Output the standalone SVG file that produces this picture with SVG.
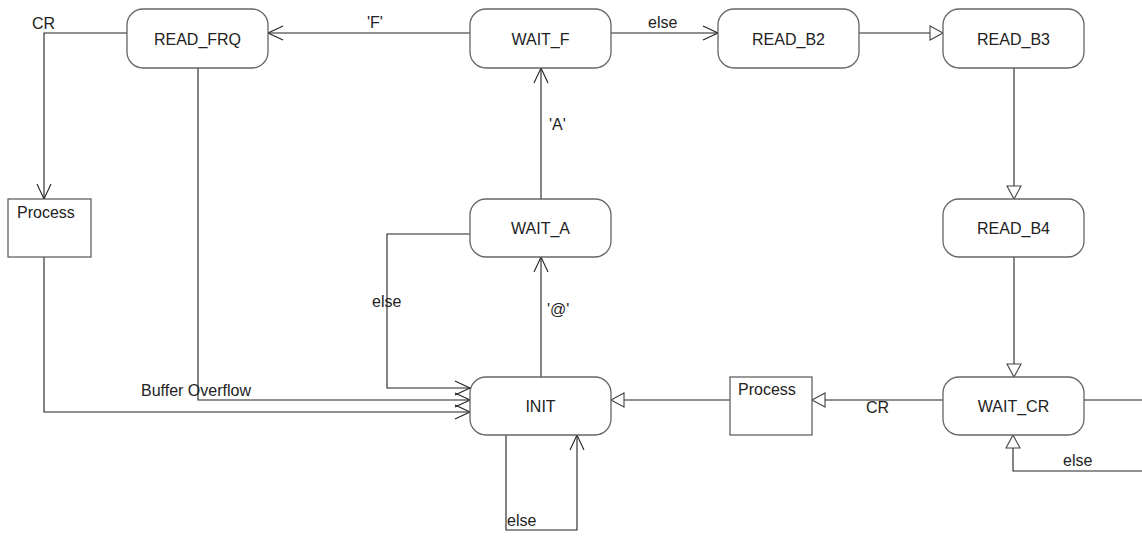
<svg xmlns="http://www.w3.org/2000/svg" width="1142" height="536" viewBox="0 0 1142 536">
<style>
.state{fill:#fff;stroke:#666;stroke-width:1.3}
.proc{fill:#fff;stroke:#555;stroke-width:1.2}
.name{font-family:"Liberation Sans",Arial,sans-serif;font-size:16px;fill:#222;text-anchor:middle}
.lbl{font-family:"Liberation Sans",Arial,sans-serif;font-size:16px;fill:#222}
.edge{fill:none;stroke:#222;stroke-width:1.1}
.open{marker-end:url(#openArrow)}
.tri{marker-end:url(#triArrow)}
</style>
<defs>
<marker id="openArrow" markerUnits="userSpaceOnUse" markerWidth="17" markerHeight="16" viewBox="-1 -1 17 16" refX="15" refY="7" orient="auto" overflow="visible">
<path d="M0,0 L15,7 L0,14" fill="none" stroke="#222" stroke-width="1.1"/>
</marker>
<marker id="triArrow" markerUnits="userSpaceOnUse" markerWidth="15" markerHeight="16" viewBox="-1 -1 15 16" refX="13" refY="7" orient="auto" overflow="visible">
<path d="M0,0 L13,7 L0,14 Z" fill="#fff" stroke="#444" stroke-width="1.1"/>
</marker>
</defs>
<rect width="1142" height="536" fill="#fff"/>
<g id="connectors">
<path class="edge open" d="M470,33 H268"/>
<path class="edge open" d="M611,33 H718"/>
<path class="edge tri" d="M859,33 H943"/>
<path class="edge tri" d="M1014,68 V199"/>
<path class="edge tri" d="M1014,257 V377"/>
<path class="edge tri" d="M943,400 H812"/>
<path class="edge tri" d="M730,400 H611"/>
<path class="edge tri" d="M1084,400 H1160 V471 H1013 V435"/>
<path class="edge open" d="M541,377 V257"/>
<path class="edge open" d="M541,199 V68"/>
<path class="edge open" d="M470,234 H387 V388 H470"/>
<path class="edge open" d="M198,68 V400 H470"/>
<path class="edge open" d="M127,33 H44 V199"/>
<path class="edge open" d="M44,257 V412 H470"/>
<path class="edge open" d="M506,435 V530 H577 V435"/>
<text class="lbl" x="367" y="28">'F'</text>
<text class="lbl" x="648" y="28">else</text>
<text class="lbl" x="32" y="29">CR</text>
<text class="lbl" x="549" y="130">'A'</text>
<text class="lbl" x="547" y="315">'@'</text>
<text class="lbl" x="372" y="307">else</text>
<text class="lbl" x="141" y="396">Buffer Overflow</text>
<text class="lbl" x="507" y="526">else</text>
<text class="lbl" x="866" y="413">CR</text>
<text class="lbl" x="1063" y="466">else</text>
</g>
<g id="READ_FRQ"><rect class="state" x="127" y="9" width="141" height="59" rx="16"/><text class="name" x="197.5" y="45">READ_FRQ</text></g>
<g id="WAIT_F"><rect class="state" x="470" y="9" width="141" height="59" rx="16"/><text class="name" x="540.5" y="45">WAIT_F</text></g>
<g id="READ_B2"><rect class="state" x="718" y="9" width="141" height="59" rx="16"/><text class="name" x="788.5" y="45">READ_B2</text></g>
<g id="READ_B3"><rect class="state" x="943" y="9" width="141" height="59" rx="16"/><text class="name" x="1013.5" y="45">READ_B3</text></g>
<g id="READ_B4"><rect class="state" x="943" y="199" width="141" height="58" rx="16"/><text class="name" x="1013.5" y="234">READ_B4</text></g>
<g id="WAIT_A"><rect class="state" x="470" y="199" width="141" height="58" rx="16"/><text class="name" x="540.5" y="234">WAIT_A</text></g>
<g id="INIT"><rect class="state" x="470" y="377" width="141" height="58" rx="16"/><text class="name" x="540.5" y="412">INIT</text></g>
<g id="WAIT_CR"><rect class="state" x="943" y="377" width="141" height="58" rx="16"/><text class="name" x="1013.5" y="412">WAIT_CR</text></g>
<g id="Process1"><rect class="proc" x="8" y="199" width="83" height="58"/><text class="lbl" x="17" y="218">Process</text></g>
<g id="Process2"><rect class="proc" x="730" y="377" width="82" height="58"/><text class="lbl" x="738" y="395">Process</text></g>
</svg>
